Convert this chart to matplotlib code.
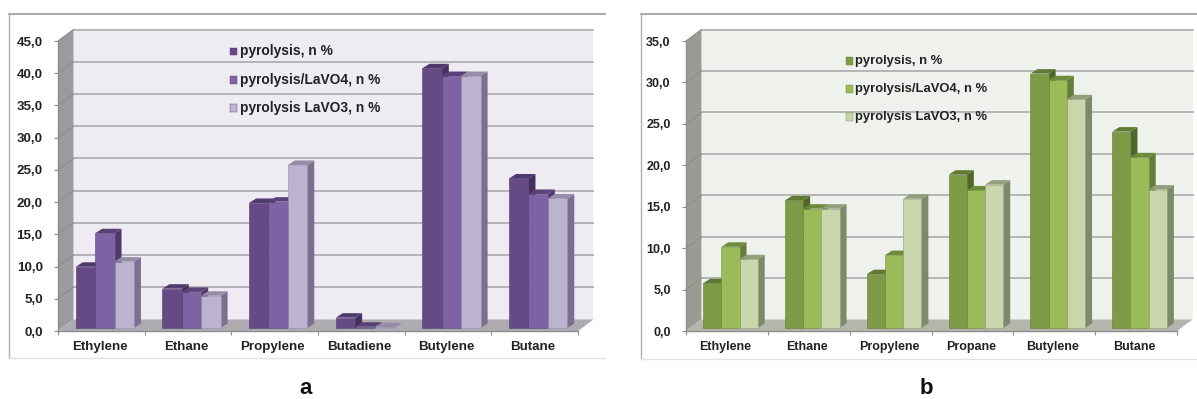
import matplotlib
matplotlib.use("Agg")
import matplotlib.pyplot as plt
from matplotlib.patches import Polygon, Rectangle

plt.rcParams["font.family"] = ["Liberation Sans", "DejaVu Sans"]
plt.rcParams["font.weight"] = "bold"

FIG_W, FIG_H = 1197, 399

series_names = ["pyrolysis, n %", "pyrolysis/LaVO4, n %", "pyrolysis LaVO3, n %"]

# chart a
categories_a = ["Ethylene", "Ethane", "Propylene", "Butadiene", "Butylene", "Butane"]
pyrolysis_a = [9.5, 6.1, 19.4, 1.6, 40.3, 23.2]
lavo4_a = [14.7, 5.6, 19.6, 0.2, 39.1, 20.8]
lavo3_a = [10.3, 5.0, 25.3, 0.1, 39.1, 20.1]
ticks_a = [0, 5, 10, 15, 20, 25, 30, 35, 40, 45]

# chart b
categories_b = ["Ethylene", "Ethane", "Propylene", "Propane", "Butylene", "Butane"]
pyrolysis_b = [5.4, 15.4, 6.5, 18.5, 30.7, 23.7]
lavo4_b = [9.8, 14.4, 8.8, 16.6, 29.9, 20.6]
lavo3_b = [8.3, 14.4, 15.6, 17.3, 27.6, 16.7]
ticks_b = [0, 5, 10, 15, 20, 25, 30, 35]

PURPLE = {
    "wall": "#EEEBF3", "floor": "#AEABB0", "left": "#9B9A9F",
    "front": ["#654A85", "#7F62A3", "#BCB3CF"],
    "top": ["#4F3A6C", "#5A4279", "#958DA8"],
    "side": ["#44305E", "#4F3A6C", "#7A7190"],
}
GREEN = {
    "wall": "#EFF2EC", "floor": "#B4B6AE", "left": "#9A9C94",
    "front": ["#7F9A47", "#9BBB59", "#C9D6AC"],
    "top": ["#607A35", "#6E8A3C", "#929E7C"],
    "side": ["#50662B", "#657D38", "#7C8A6A"],
}

fig = plt.figure(figsize=(FIG_W / 100, FIG_H / 100), dpi=100)


def fx(px):
    return px / FIG_W


def fy(py):
    return 1 - py / FIG_H


def draw_frame(x0, x1, y0, y1):
    # outer chart border, only top and left are really visible
    fig.add_artist(plt.Line2D([fx(x0), fx(x1)], [fy(y0), fy(y0)], color="#9A9A9A", lw=1.2))
    fig.add_artist(plt.Line2D([fx(x0), fx(x0)], [fy(y0), fy(y1)], color="#B0B0B0", lw=1.0))
    fig.add_artist(plt.Line2D([fx(x0), fx(x1)], [fy(y1), fy(y1)], color="#E2E2E2", lw=1.0))


def draw_chart(left, right, categories, groups, ticks, colors, bar_px, font_pt):
    top, bottom = 41, 331
    ax = fig.add_axes([fx(left), fy(bottom), fx(right - left), (bottom - top) / FIG_H])
    n = len(categories)
    ymax = ticks[-1]
    ax.set_xlim(0, n)
    ax.set_ylim(0, ymax)
    ax.patch.set_visible(False)

    # pixel sizes converted to data units
    ux = n / (right - left)
    uy = ymax / (bottom - top)
    dx, dy = 15.5 * ux, 11.5 * uy
    bx, by = 7 * ux, 4.5 * uy
    shift_x, shift_y = 3.5 * ux, 3 * uy
    w = bar_px * ux

    def poly(points, color, z, **kw):
        ax.add_patch(Polygon(points, closed=True, facecolor=color, edgecolor=kw.get("ec", "none"),
                             lw=kw.get("lw", 0), zorder=z, clip_on=False))

    # walls and floor
    poly([(dx, dy), (n + dx, dy), (n + dx, ymax + dy), (dx, ymax + dy)], colors["wall"], 1)
    poly([(0, 0), (dx, dy), (dx, ymax + dy), (0, ymax)], colors["left"], 1)
    poly([(0, 0), (n, 0), (n + dx, dy), (dx, dy)], colors["floor"], 1)

    for t in ticks[1:]:
        ax.plot([dx, n + dx], [t + dy, t + dy], color="#B0B0B0", lw=1.3, zorder=2, clip_on=False)
        ax.plot([0, dx], [t, t + dy], color="#8C8C8C", lw=0.8, zorder=2, clip_on=False)

    # bars, left to right so each one covers the side of the previous
    z = 3
    for i in range(n):
        x_start = i + 0.5 + shift_x - 1.5 * w
        for j, values in enumerate(groups):
            v = values[i]
            x0 = x_start + j * w
            x1 = x0 + w
            b0 = shift_y
            v0 = v + shift_y
            poly([(x1, b0), (x1 + bx, b0 + by), (x1 + bx, v0 + by), (x1, v0)], colors["side"][j], z)
            poly([(x0, v0), (x1, v0), (x1 + bx, v0 + by), (x0 + bx, v0 + by)], colors["top"][j], z)
            poly([(x0, b0), (x1, b0), (x1, v0), (x0, v0)], colors["front"][j], z + 0.5,
                 ec=colors["top"][j], lw=0.4)
            z += 1

    # axes and tick labels
    for s in ["top", "right"]:
        ax.spines[s].set_visible(False)
    for s in ["left", "bottom"]:
        ax.spines[s].set_color("#8E8E8E")
        ax.spines[s].set_linewidth(1.0)
        ax.spines[s].set_zorder(2)
    ax.set_yticks(ticks)
    ax.set_yticklabels([f"{t:.1f}".replace(".", ",") for t in ticks], fontsize=font_pt, color="#222222")
    ax.set_xticks(range(n + 1))
    ax.set_xticklabels([])
    ax.set_xticks([i + 0.48 for i in range(n)], minor=True)
    ax.set_xticklabels(categories, minor=True, fontsize=font_pt, color="#222222")
    ax.tick_params(axis="y", length=3, width=0.8, color="#8E8E8E", pad=8)
    ax.tick_params(axis="x", which="major", length=3, width=0.8, color="#8E8E8E")
    ax.tick_params(axis="x", which="minor", length=0, pad=7)
    return ax


def draw_legend(square_x, text_x, rows, colors, font_pt):
    for name, row, color in zip(series_names, rows, colors["front"]):
        fig.add_artist(Rectangle((fx(square_x), fy(row + 3.5)), 7 / FIG_W, 7 / FIG_H, transform=fig.transFigure,
                                 facecolor=color, edgecolor=colors["top"][1], lw=0.3))
        fig.text(fx(text_x), fy(row), name, fontsize=font_pt, color="#222222", ha="left", va="center")


draw_frame(9, 605, 13.5, 358)
draw_frame(641, 1197, 13.5, 359)

draw_chart(58, 578, categories_a, [pyrolysis_a, lavo4_a, lavo3_a], ticks_a, PURPLE, 19.4, 9.6)
draw_chart(686, 1177, categories_b, [pyrolysis_b, lavo4_b, lavo3_b], ticks_b, GREEN, 18.2, 9.0)

draw_legend(230, 240, [51, 80, 108], PURPLE, 9.9)
draw_legend(846, 855, [61, 89, 117], GREEN, 9.35)

fig.text(fx(306), fy(394), "a", fontsize=16, color="#111111", ha="center", va="baseline")
fig.text(fx(926), fy(394), "b", fontsize=16, color="#111111", ha="center", va="baseline")

fig.savefig("out.png", dpi=100, facecolor="white")
